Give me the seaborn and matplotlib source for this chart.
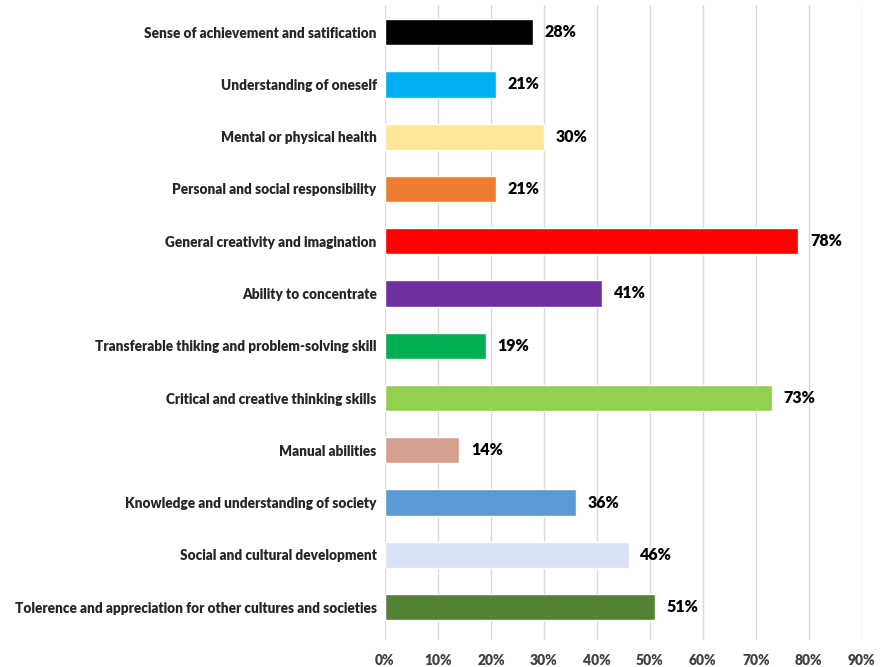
import matplotlib
matplotlib.use("Agg")
import matplotlib.pyplot as plt
import pandas as pd
import seaborn as sns

categories = [
    "Sense of achievement and satification",
    "Understanding of oneself",
    "Mental or physical health",
    "Personal and social responsibility",
    "General creativity and imagination",
    "Ability to concentrate",
    "Transferable thiking and problem-solving skill",
    "Critical and creative thinking skills",
    "Manual abilities",
    "Knowledge and understanding of society",
    "Social and cultural development",
    "Tolerence and appreciation for other cultures and societies",
]
values = [28, 21, 30, 21, 78, 41, 19, 73, 14, 36, 46, 51]
colors = [
    "#000000", "#00B0F0", "#FFE699", "#ED7D31", "#FF0000", "#7030A0",
    "#00B050", "#92D050", "#D59F8F", "#5B9BD5", "#DAE3F3", "#548235",
]
x_ticks = [0, 10, 20, 30, 40, 50, 60, 70, 80, 90]

df = pd.DataFrame({"category": categories, "value": values})

sns.set_style("white")
plt.rcParams["font.family"] = ["Lato", "DejaVu Sans"]

fig = plt.figure(figsize=(8.83, 6.67), dpi=100)
ax = fig.add_axes([0.436, 0.0405, 0.976 - 0.436, 0.9925 - 0.0405])

sns.barplot(
    data=df, x="value", y="category", hue="category",
    palette=colors, legend=False, width=0.5, ax=ax, saturation=1,
)

# value labels next to each bar
for i, v in enumerate(values):
    ax.text(v + 2.2, i, f"{v}%", va="center", ha="left",
            fontsize=11.5, fontweight="heavy", color="black")

ax.set_xlim(0, 90)
ax.set_ylim(11.63, -0.52)
ax.set_xticks(x_ticks)
ax.set_xticklabels([f"{t}%" for t in x_ticks])
ax.xaxis.grid(True, color="#D9D9D9", linewidth=1)
ax.set_axisbelow(True)
ax.set_xlabel("")
ax.set_ylabel("")
for s in ax.spines.values():
    s.set_visible(False)
ax.tick_params(axis="x", length=0, pad=10, labelsize=10, colors="#404040")
ax.tick_params(axis="y", length=0, pad=6, labelsize=9.8, colors="#262626")
for lab in ax.get_xticklabels() + ax.get_yticklabels():
    lab.set_fontweight("heavy")

fig.savefig("out.png", dpi=100)
